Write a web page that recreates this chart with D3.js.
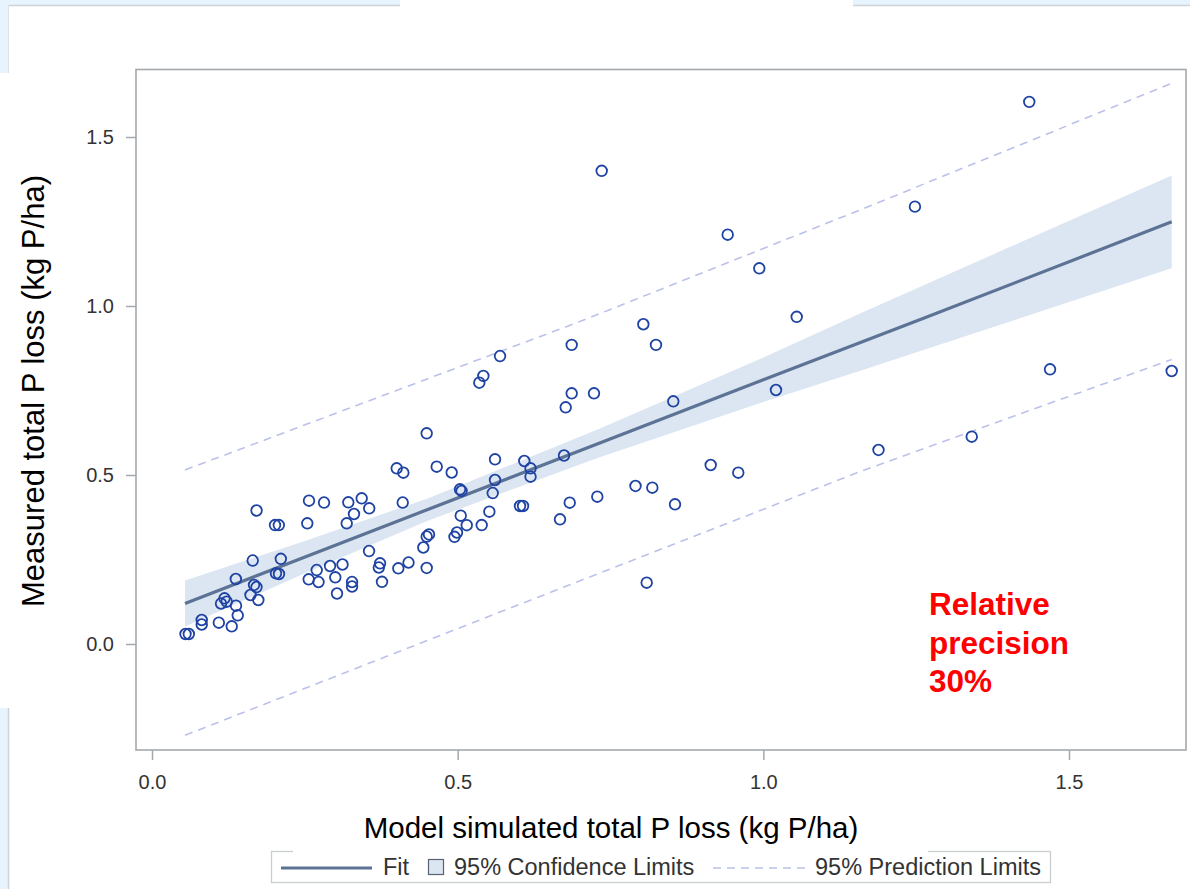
<!DOCTYPE html>
<html>
<head>
<meta charset="utf-8">
<script src="https://cdn.jsdelivr.net/npm/d3@7"></script>
<style>
  html, body { margin: 0; padding: 0; background: #e8f4fd; }
  svg { display: block; }
</style>
</head>
<body>
<svg id="chart" width="1190" height="889"></svg>
<script>
// ---------------- data ----------------
const ptsX = [1.435,0.7356,0.9417,1.248,0.9934,1.0546,0.8037,0.8244,0.6865,0.5693,
  0.542,0.5354,0.6865,0.723,0.6767,0.8527,1.0207,0.4493,0.4003,0.4111,
  0.4657,0.4902,0.5611,0.609,0.6192,0.6192,0.674,0.5611,0.5573,0.5038,
  0.5063,0.505,0.5148,0.4989,0.4948,0.5393,0.5518,0.602,0.6069,0.6833,
  0.6674,0.7284,0.7909,0.8184,0.8555,0.9139,0.959,0.8092,1.1884,1.469,
  1.668,1.3409,0.4493,0.4438,0.4531,0.4493,0.4196,0.4029,0.373,0.371,
  0.3762,0.355,0.2568,0.2814,0.3211,0.343,0.3553,0.3304,0.4101,0.254,
  0.3185,0.3116,0.2912,0.2694,0.2563,0.2724,0.2998,0.3272,0.3272,0.3026,
  0.171,0.2012,0.2074,0.1647,0.2107,0.2028,0.2077,0.1371,0.1669,0.1709,
  0.1611,0.1739,0.1186,0.1129,0.1222,0.1374,0.1402,0.1304,0.1093,0.0813,
  0.0813,0.0548,0.0602];
const ptsY = [1.604,1.400,1.211,1.294,1.1115,0.968,0.946,0.885,0.885,0.852,
  0.793,0.773,0.7417,0.7417,0.7003,0.718,0.7515,0.6234,0.5198,0.5068,
  0.5246,0.5074,0.5464,0.5414,0.5198,0.495,0.5577,0.4852,0.4467,0.4577,
  0.4527,0.3796,0.3515,0.3299,0.3172,0.352,0.3914,0.4083,0.4083,0.418,
  0.369,0.4358,0.4675,0.4624,0.4133,0.5296,0.5068,0.1814,0.574,0.8127,
  0.8077,0.6133,0.2249,0.2855,0.324,0.318,0.2411,0.224,0.2388,0.2263,
  0.184,0.2751,0.424,0.4186,0.4192,0.431,0.4015,0.3846,0.4186,0.3571,
  0.3571,0.2352,0.2308,0.2189,0.1914,0.1834,0.1973,0.1834,0.1701,0.1494,
  0.395,0.352,0.352,0.247,0.2521,0.2092,0.2071,0.1923,0.1746,0.1686,
  0.145,0.1302,0.1352,0.1198,0.1251,0.1133,0.0849,0.0524,0.063,0.071,
  0.0577,0.0296,0.0296];

// fitted line
const fitX = [0.054, 0.45, 1.0, 1.26, 1.668];
const fitY = [0.120, 0.397, 0.782, 0.962, 1.249];
// 95% confidence band
const bandX  = [0.054, 0.25, 0.45, 0.73, 1.0, 1.16, 1.40, 1.668];
const bandLo = [0.052, 0.209, 0.364, 0.551, 0.716, 0.809, 0.952, 1.112];
const bandHi = [0.188, 0.305, 0.430, 0.635, 0.848, 0.979, 1.172, 1.386];
// 95% prediction limits
const predX  = [0.054, 0.70, 1.158, 1.668];
const predLo = [-0.270, 0.187, 0.51, 0.842];
const predHi = [0.515, 0.954, 1.284, 1.659];

const xTicks = [0, 0.5, 1.0, 1.5];
const yTicks = [0, 0.5, 1.0, 1.5];
const xTitle = "Model simulated total P loss (kg P/ha)";
const yTitle = "Measured total P loss (kg P/ha)";
const noteLines = ["Relative", "precision", "30%"];
const legendLabels = ["Fit", "95% Confidence Limits", "95% Prediction Limits"];

// ---------------- drawing ----------------
const svg = d3.select("#chart");
const FONT = "'Liberation Sans', Arial, sans-serif";

// page panels
svg.append("rect").attr("x", 0).attr("y", 0).attr("width", 1190).attr("height", 889).attr("fill", "#e8f4fd");
svg.append("rect").attr("x", 8).attr("y", 5).attr("width", 1182).attr("height", 884).attr("fill", "#ffffff");
svg.append("rect").attr("x", 400).attr("y", 0).attr("width", 453).attr("height", 6).attr("fill", "#ffffff");
svg.append("rect").attr("x", 0).attr("y", 73).attr("width", 9).attr("height", 635).attr("fill", "#ffffff");
svg.append("line").attr("x1", 8).attr("x2", 400).attr("y1", 5.5).attr("y2", 5.5).attr("stroke", "#cfd3d6").attr("stroke-width", 1.5);
svg.append("line").attr("x1", 853).attr("x2", 1190).attr("y1", 5.5).attr("y2", 5.5).attr("stroke", "#cfd3d6").attr("stroke-width", 1.5);
svg.append("line").attr("x1", 8.5).attr("x2", 8.5).attr("y1", 5).attr("y2", 73).attr("stroke", "#dfe3e6").attr("stroke-width", 1);
svg.append("line").attr("x1", 8.5).attr("x2", 8.5).attr("y1", 708).attr("y2", 889).attr("stroke", "#cfd3d6").attr("stroke-width", 1.5);

const L = 136, R = 1186, T = 69.5, B = 750;
const x = d3.scaleLinear().domain([-0.0262, 1.6914]).range([L, R]);
const y = d3.scaleLinear().domain([-0.3136, 1.6997]).range([B, T]);

svg.append("defs").append("clipPath").attr("id", "plotclip")
  .append("rect").attr("x", L).attr("y", T).attr("width", R - L).attr("height", B - T);
const plot = svg.append("g").attr("clip-path", "url(#plotclip)");

// confidence band
const bandData = bandX.map((d, i) => ({ x: d, lo: bandLo[i], hi: bandHi[i] }));
plot.append("path")
  .datum(bandData)
  .attr("fill", "#dce6f2")
  .attr("d", d3.area().x(d => x(d.x)).y0(d => y(d.lo)).y1(d => y(d.hi)));

// prediction limits
const predLine = d3.line().x(d => x(d.x)).y(d => y(d.v));
[predLo, predHi].forEach(arr => {
  plot.append("path")
    .datum(predX.map((d, i) => ({ x: d, v: arr[i] })))
    .attr("fill", "none")
    .attr("stroke", "#bcc1ea")
    .attr("stroke-width", 1.6)
    .attr("stroke-dasharray", "8,6")
    .attr("d", predLine);
});

// fit line
plot.append("path")
  .datum(fitX.map((d, i) => ({ x: d, v: fitY[i] })))
  .attr("fill", "none")
  .attr("stroke", "#5d7396")
  .attr("stroke-width", 3.2)
  .attr("d", predLine);

// points
plot.selectAll("circle.pt")
  .data(ptsX.map((d, i) => ({ x: d, y: ptsY[i] })))
  .join("circle")
  .attr("class", "pt")
  .attr("cx", d => x(d.x))
  .attr("cy", d => y(d.y))
  .attr("r", 5.3)
  .attr("fill", "none")
  .attr("stroke", "#1f43a3")
  .attr("stroke-width", 1.8);

// frame
svg.append("rect").attr("x", L).attr("y", T).attr("width", R - L).attr("height", B - T)
  .attr("fill", "none").attr("stroke", "#a4a9ad").attr("stroke-width", 1.6);

// axes
const xAxis = svg.append("g").attr("transform", `translate(0,${B})`)
  .call(d3.axisBottom(x).tickValues(xTicks).tickFormat(d3.format(".1f")).tickSize(10).tickPadding(15));
const yAxis = svg.append("g").attr("transform", `translate(${L},0)`)
  .call(d3.axisLeft(y).tickValues(yTicks).tickFormat(d3.format(".1f")).tickSize(10).tickPadding(12));
[xAxis, yAxis].forEach(g => {
  g.select(".domain").remove();
  g.selectAll(".tick line").attr("stroke", "#a4a9ad").attr("stroke-width", 1.5);
  g.selectAll(".tick text").attr("fill", "#333333").style("font-family", FONT).style("font-size", "20px");
});

// axis titles
svg.append("text").attr("x", 611).attr("y", 838).attr("text-anchor", "middle")
  .style("font-family", FONT).style("font-size", "29.5px").attr("fill", "#000").text(xTitle);
svg.append("text").attr("transform", "translate(44,391) rotate(-90)").attr("text-anchor", "middle")
  .style("font-family", FONT).style("font-size", "31px").attr("fill", "#000").text(yTitle);

// annotation
svg.append("g").selectAll("text").data(noteLines).join("text")
  .attr("x", 929).attr("y", (d, i) => 615 + i * 38.5)
  .style("font-family", FONT).style("font-size", "31.5px").style("font-weight", "bold")
  .attr("fill", "#ff0000").text(d => d);

// legend
const lg = svg.append("g");
lg.append("rect").attr("x", 271.5).attr("y", 851.5).attr("width", 779).attr("height", 31)
  .attr("fill", "#ffffff").attr("stroke", "#c9cdd0").attr("stroke-width", 1.3);
lg.append("rect").attr("x", 293).attr("y", 849).attr("width", 635).attr("height", 4).attr("fill", "#ffffff");
lg.append("line").attr("x1", 281).attr("x2", 372).attr("y1", 868).attr("y2", 868)
  .attr("stroke", "#5d7396").attr("stroke-width", 3);
lg.append("text").attr("x", 383).attr("y", 875).text(legendLabels[0]);
lg.append("rect").attr("x", 428.5).attr("y", 859.5).attr("width", 15).attr("height", 15)
  .attr("fill", "#dce6f2").attr("stroke", "#5a6270").attr("stroke-width", 1.2);
lg.append("text").attr("x", 454).attr("y", 875).text(legendLabels[1]);
lg.append("line").attr("x1", 713).attr("x2", 806).attr("y1", 868).attr("y2", 868)
  .attr("stroke", "#bcc1ea").attr("stroke-width", 1.6).attr("stroke-dasharray", "8,6");
lg.append("text").attr("x", 815).attr("y", 875).text(legendLabels[2]);
lg.selectAll("text").style("font-family", FONT).style("font-size", "23.5px").attr("fill", "#333333");
</script>
</body>
</html>
